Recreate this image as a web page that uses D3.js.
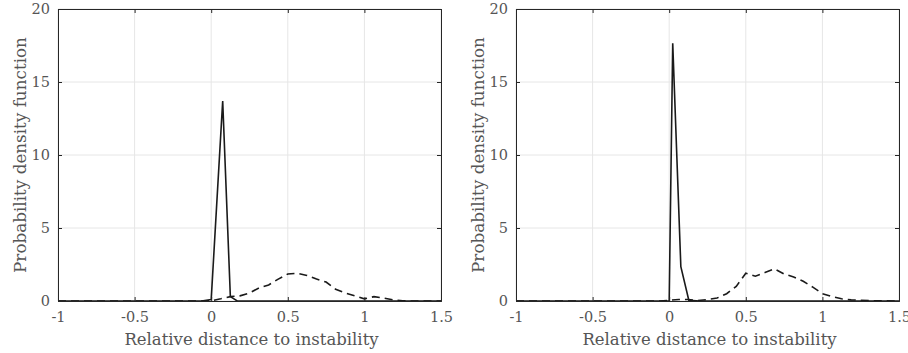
<!DOCTYPE html>
<html>
<head>
<meta charset="utf-8">
<script src="https://cdn.jsdelivr.net/npm/d3@7"></script>
<style>
  body { margin: 0; background: #fff; }
</style>
</head>
<body>
<div id="chart"></div>
<script>
// Data
const xTicks = [-1, -0.5, 0, 0.5, 1, 1.5];
const yTicks = [0, 5, 10, 15, 20];

// left panel
const leftSolidX = [-1, -0.0625, 0, 0.075, 0.125, 0.17, 1.5];
const leftSolidY = [0, 0, 0.1, 13.7, 0.3, 0, 0];
const leftDashX = [-1, -0.0625, 0, 0.0625, 0.125, 0.1875, 0.25, 0.3125, 0.375, 0.4375, 0.5, 0.5625, 0.625, 0.6875, 0.75, 0.8125, 0.875, 0.9375, 1.0, 1.0625, 1.125, 1.1875, 1.25, 1.3125, 1.5];
const leftDashY = [0, 0, 0.02, 0.15, 0.3, 0.35, 0.55, 0.9, 1.1, 1.5, 1.85, 1.9, 1.75, 1.5, 1.3, 0.8, 0.55, 0.35, 0.15, 0.3, 0.2, 0.08, 0.02, 0, 0];

// right panel
const rightSolidX = [-1, 0, 0.023, 0.076, 0.128, 0.2, 1.5];
const rightSolidY = [0, 0, 17.65, 2.35, 0.05, 0, 0];
const rightDashX = [-1, -0.0625, 0, 0.0625, 0.125, 0.1875, 0.25, 0.3125, 0.375, 0.4375, 0.5, 0.5625, 0.625, 0.6875, 0.75, 0.8125, 0.875, 0.9375, 1.0, 1.0625, 1.125, 1.1875, 1.25, 1.3125, 1.5];
const rightDashY = [0, 0, 0.05, 0.1, 0.1, 0.03, 0.1, 0.2, 0.5, 1.0, 1.9, 1.7, 1.95, 2.2, 1.85, 1.65, 1.35, 0.95, 0.5, 0.3, 0.15, 0.08, 0.05, 0.02, 0];

const width = 908;
const height = 353;
const serif = "'DejaVu Serif', 'Liberation Serif', serif";

const svg = d3.select('#chart')
    .append('svg')
    .attr('width', width)
    .attr('height', height);

const panels = [
    { left: 58, solidX: leftSolidX, solidY: leftSolidY, dashX: leftDashX, dashY: leftDashY },
    { left: 516, solidX: rightSolidX, solidY: rightSolidY, dashX: rightDashX, dashY: rightDashY }
];

const plotW = 383;
const plotTop = 9;
const plotBottom = 301;

panels.forEach(p => {
    const x = d3.scaleLinear().domain([-1, 1.5]).range([p.left, p.left + plotW]);
    const y = d3.scaleLinear().domain([0, 20]).range([plotBottom, plotTop]);

    const g = svg.append('g');

    // grid
    g.append('g')
        .selectAll('line')
        .data(xTicks)
        .enter()
        .append('line')
        .attr('x1', d => x(d)).attr('x2', d => x(d))
        .attr('y1', plotTop).attr('y2', plotBottom)
        .attr('stroke', '#e6e6e6')
        .attr('stroke-width', 1);
    g.append('g')
        .selectAll('line')
        .data(yTicks)
        .enter()
        .append('line')
        .attr('x1', p.left).attr('x2', p.left + plotW)
        .attr('y1', d => y(d)).attr('y2', d => y(d))
        .attr('stroke', '#e6e6e6')
        .attr('stroke-width', 1);

    // curves
    const line = d3.line()
        .x(d => x(d[0]))
        .y(d => y(d[1]));

    g.append('path')
        .datum(p.dashX.map((v, i) => [v, p.dashY[i]]))
        .attr('d', line)
        .attr('fill', 'none')
        .attr('stroke', '#1a1a1a')
        .attr('stroke-width', 1.6)
        .attr('stroke-dasharray', '8,5');

    g.append('path')
        .datum(p.solidX.map((v, i) => [v, p.solidY[i]]))
        .attr('d', line)
        .attr('fill', 'none')
        .attr('stroke', '#1a1a1a')
        .attr('stroke-width', 1.6)
        .attr('stroke-linejoin', 'miter');

    // axes (ticks inward, box on)
    const xAxisB = d3.axisBottom(x).tickValues(xTicks).tickSize(-4).tickFormat(d => d).tickPadding(11);
    const xAxisT = d3.axisTop(x).tickValues(xTicks).tickSize(-4).tickFormat('');
    const yAxisL = d3.axisLeft(y).tickValues(yTicks).tickSize(-4).tickPadding(8);
    const yAxisR = d3.axisRight(y).tickValues(yTicks).tickSize(-4).tickFormat('');

    const axes = [
        g.append('g').attr('transform', `translate(0,${plotBottom})`).call(xAxisB),
        g.append('g').attr('transform', `translate(0,${plotTop})`).call(xAxisT),
        g.append('g').attr('transform', `translate(${p.left},0)`).call(yAxisL),
        g.append('g').attr('transform', `translate(${p.left + plotW},0)`).call(yAxisR)
    ];
    axes.forEach(a => {
        a.attr('font-family', serif).attr('font-size', 14.5);
        a.select('.domain').attr('stroke', '#262626').attr('stroke-width', 1);
        a.selectAll('.tick line').attr('stroke', '#262626');
        a.selectAll('.tick text').attr('fill', '#555');
    });

    // titles
    g.append('text')
        .attr('x', p.left + plotW / 2 + 2)
        .attr('y', 345)
        .attr('text-anchor', 'middle')
        .attr('font-family', serif)
        .attr('font-size', 16.5)
        .attr('fill', '#555')
        .text('Relative distance to instability');

    g.append('text')
        .attr('transform', `translate(${p.left - 32},${(plotTop + plotBottom) / 2}) rotate(-90)`)
        .attr('text-anchor', 'middle')
        .attr('font-family', serif)
        .attr('font-size', 16.8)
        .attr('fill', '#555')
        .text('Probability density function');
});
</script>
</body>
</html>
